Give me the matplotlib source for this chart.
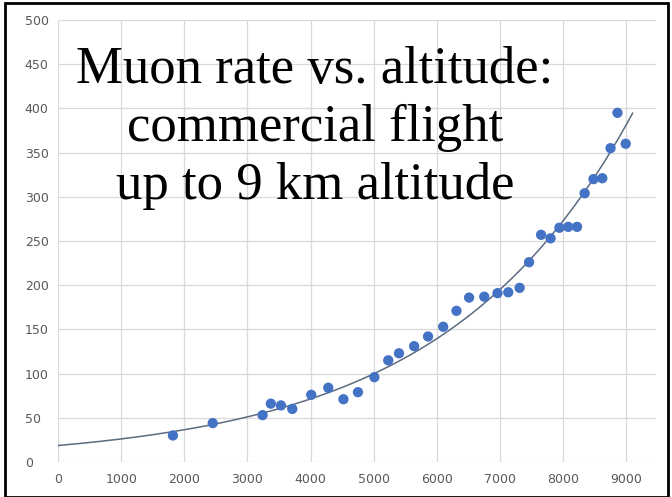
import numpy as np
import matplotlib
matplotlib.use("Agg")
import matplotlib.pyplot as plt
from matplotlib.patches import Rectangle

altitude_m = [1820, 2450, 3240, 3370, 3530, 3710, 4010, 4280, 4520, 4750,
              5010, 5230, 5400, 5640, 5860, 6100, 6310, 6510, 6750, 6960,
              7130, 7310, 7460, 7650, 7800, 7940, 8080, 8220, 8340, 8480,
              8620, 8750, 8860, 8990]
muon_rate = [30, 44, 53, 66, 64, 60, 76, 84, 71, 79,
             96, 115, 123, 131, 142, 153, 171, 186, 187, 191,
             192, 197, 226, 257, 253, 265, 266, 266, 304, 320,
             321, 355, 395, 360]
x_ticks = [0, 1000, 2000, 3000, 4000, 5000, 6000, 7000, 8000, 9000]
y_ticks = [0, 50, 100, 150, 200, 250, 300, 350, 400, 450, 500]
title_lines = ["Muon rate vs. altitude:", "commercial flight", "up to 9 km altitude"]

fig = plt.figure(figsize=(6.72, 4.97), dpi=100)
ax = fig.add_axes([58/672, 1-462/497, (656-58)/672, (462-20)/497])

# exponential trendline fitted to the data
xd = np.array(altitude_m, float)
yd = np.array(muon_rate, float)
b, lna = np.polyfit(xd, np.log(yd), 1)
xt = np.linspace(0, 9100, 300)
ax.plot(xt, np.exp(lna) * np.exp(b * xt), color="#5b6b82", lw=1.1, zorder=2)

ax.scatter(altitude_m, muon_rate, s=55, color="#4472C4", edgecolors="none", zorder=3)

ax.set_xlim(0, 9470)
ax.set_ylim(0, 500)
ax.set_xticks(x_ticks)
ax.set_yticks(y_ticks)
ax.set_xticklabels([str(t) for t in x_ticks])
ax.set_yticklabels([str(t) for t in y_ticks])
ax.grid(True, color="#d9d9d9", lw=0.9)
ax.set_axisbelow(True)
for s in ax.spines.values():
    s.set_visible(False)
ax.tick_params(length=0, colors="#595959", labelsize=9)
ax.tick_params(axis="x", pad=8)
ax.tick_params(axis="y", pad=24)
for lab in ax.get_yticklabels():
    lab.set_horizontalalignment("left")

ax.text(315/672, 1-128/497, "\n".join(title_lines), transform=fig.transFigure,
        ha="center", va="center", fontsize=38, family="Liberation Serif",
        color="black", linespacing=1.28)

fig.patches.append(Rectangle((5/672, 0), 663/672, 1-3/497, transform=fig.transFigure,
                             fill=False, edgecolor="black", lw=2))

fig.savefig("out.png", dpi=100)
